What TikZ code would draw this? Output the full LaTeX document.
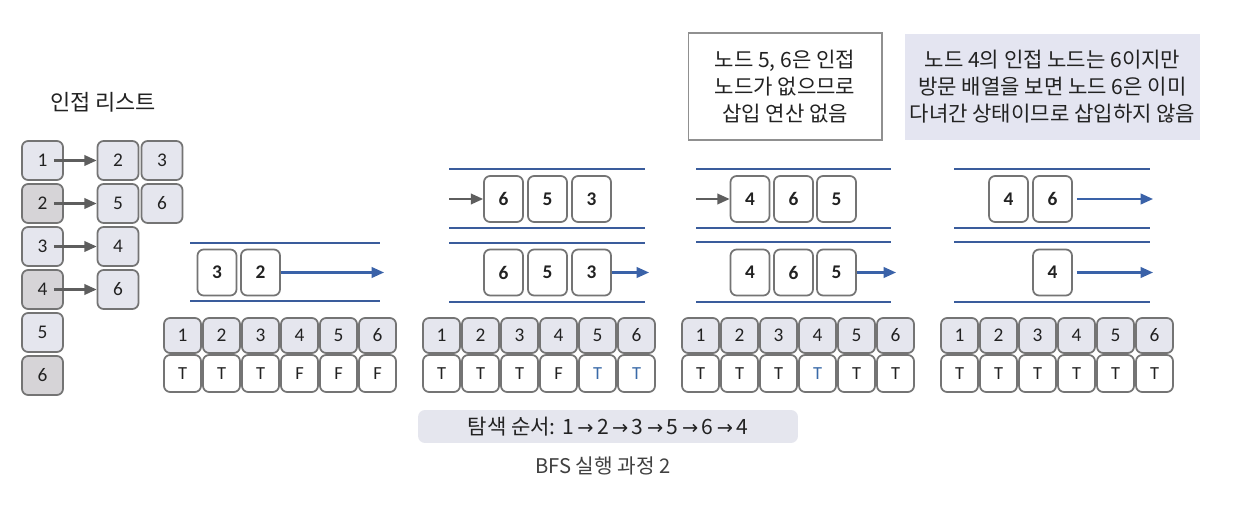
\documentclass[tikz,border=0pt]{standalone}
\usepackage{fontspec}
\setmainfont{Carlito}
\newfontfamily\kr{Noto Sans CJK KR}
\newfontfamily\dv{DejaVu Sans}
\usetikzlibrary{arrows.meta}
\definecolor{qblue}{HTML}{3A5C9C}
\definecolor{ablue}{HTML}{3A62A8}
\definecolor{tblue}{HTML}{3A6AA8}
\definecolor{lfill}{HTML}{E5E6EE}
\definecolor{dfill}{HTML}{D6D4D7}
\definecolor{bord}{HTML}{747474}
\definecolor{agray}{HTML}{5E5E5E}
\definecolor{notefill}{HTML}{E4E5F1}
\definecolor{txt}{HTML}{222222}
\tikzset{
  base/.style={draw=bord, line width=1pt, rounded corners=3.5pt, inner sep=0pt, text=txt, font=\fontsize{11}{13}\selectfont},
  adjl/.style={base, fill=lfill, minimum width=0.82cm, minimum height=0.78cm},
  adjd/.style={base, fill=dfill, minimum width=0.82cm, minimum height=0.78cm},
  vtop/.style={base, fill=lfill, minimum width=0.74cm, minimum height=0.70cm},
  vbot/.style={base, fill=white, minimum width=0.74cm, minimum height=0.74cm, font=\fontsize{10.5}{12}\selectfont},
  qbox/.style={base, fill=white, minimum width=0.78cm, minimum height=0.92cm, font=\fontsize{11}{13}\bfseries\selectfont},
  qline/.style={draw=qblue, line width=1.1pt},
  blarrow/.style={draw=ablue, line width=1.2pt, -{Triangle[length=7pt,width=6pt]}},
  grarrow/.style={draw=agray, line width=1.2pt, -{Triangle[length=7pt,width=6pt]}},
  notetxt/.style={font=\kr\fontsize{12}{15.4}\selectfont, text=txt, align=center},
}
\begin{document}
\begin{tikzpicture}[x=0.02cm, y=-0.02cm]
\useasboundingbox (0,0) rectangle (1237,506);
\fill[white] (0,0) rectangle (1237,506);

% adjacency list
\node[font=\kr\fontsize{12.5}{14}\selectfont, text=txt] (title) at (103,102) {인접 리스트};
\node[adjl] (a1) at (42.5,160.5) {1};
\node[adjd] (a2) at (42.5,203.5) {2};
\node[adjl] (a3) at (42.5,246.5) {3};
\node[adjd] (a4) at (42.5,289.5) {4};
\node[adjl] (a5) at (42.5,332.5) {5};
\node[adjd] (a6) at (42.5,375.5) {6};
\node[adjl] (b12) at (118,160.5) {2};
\node[adjl] (b13) at (162,160.5) {3};
\node[adjl] (b25) at (118,203.5) {5};
\node[adjl] (b26) at (162,203.5) {6};
\node[adjl] (b34) at (118,246.5) {4};
\node[adjl] (b46) at (118,289.5) {6};
\foreach \i/\j in {1/12,2/25,3/34,4/46}{
  \draw[grarrow] ([xshift=-0.2cm]a\i.east) -- (b\j.west);
}

% visited arrays
\foreach \p/\x in {1/163,2/422,3/681,4/940}{
  \foreach \k in {1,...,6}{
    \node[vtop] (v\p t\k) at ({\x+19.5+39*(\k-1)},335.5) {\k};
  }
}
\node[vbot] (v1b1) at ({163+19.5},373.5) {T};
\node[vbot] (v1b2) at ({163+19.5+39},373.5) {T};
\node[vbot] (v1b3) at ({163+19.5+78},373.5) {T};
\node[vbot] (v1b4) at ({163+19.5+117},373.5) {F};
\node[vbot] (v1b5) at ({163+19.5+156},373.5) {F};
\node[vbot] (v1b6) at ({163+19.5+195},373.5) {F};
\node[vbot] (v2b1) at ({422+19.5},373.5) {T};
\node[vbot] (v2b2) at ({422+19.5+39},373.5) {T};
\node[vbot] (v2b3) at ({422+19.5+78},373.5) {T};
\node[vbot] (v2b4) at ({422+19.5+117},373.5) {F};
\node[vbot, text=tblue] (v2b5) at ({422+19.5+156},373.5) {T};
\node[vbot, text=tblue] (v2b6) at ({422+19.5+195},373.5) {T};
\node[vbot] (v3b1) at ({681+19.5},373.5) {T};
\node[vbot] (v3b2) at ({681+19.5+39},373.5) {T};
\node[vbot] (v3b3) at ({681+19.5+78},373.5) {T};
\node[vbot, text=tblue] (v3b4) at ({681+19.5+117},373.5) {T};
\node[vbot] (v3b5) at ({681+19.5+156},373.5) {T};
\node[vbot] (v3b6) at ({681+19.5+195},373.5) {T};
\foreach \k in {1,...,6}{
  \node[vbot] (v4b\k) at ({940+19.5+39*(\k-1)},373.5) {T};
}

% panel 1 queue
\draw[qline] (190,243) -- (380,243);
\draw[qline] (190,301) -- (380,301);
\node[qbox] (q1a) at (217,272.5) {3};
\node[qbox] (q1b) at (260.5,272.5) {2};
\coordinate (q1end) at (384,272.5);
\draw[blarrow] (q1b.east) -- (q1end);

% panel 2 queues
\draw[qline] (449,169) -- (645,169);
\draw[qline] (449,228) -- (645,228);
\draw[qline] (449,243) -- (645,243);
\draw[qline] (449,302) -- (645,302);
\node[qbox] (q2a) at (503.5,199) {6};
\node[qbox] (q2b) at (547.5,199) {5};
\node[qbox] (q2c) at (591.5,199) {3};
\coordinate (q2in) at (449,199);
\draw[grarrow] (q2in) -- (q2a.west);
\node[qbox] (q2d) at (503.5,272.5) {6};
\node[qbox] (q2e) at (547.5,272.5) {5};
\node[qbox] (q2f) at (591.5,272.5) {3};
\coordinate (q2out) at (649,272.5);
\draw[blarrow] (q2f.east) -- (q2out);

% panel 3 note and queues
\node[draw=bord!80, line width=0.6pt, fill=white, minimum width=3.88cm, minimum height=2.14cm, inner sep=0pt] (n1) at (785,86.5) {};
\node[notetxt] (n1t) at (n1.center) {노드 5, 6은 인접\\노드가 없으므로\\삽입 연산 없음};
\draw[qline] (696,169) -- (891,169);
\draw[qline] (696,228) -- (891,228);
\draw[qline] (696,242) -- (891,242);
\draw[qline] (696,302) -- (891,302);
\node[qbox] (q3a) at (750,199) {4};
\node[qbox] (q3b) at (793.5,199) {6};
\node[qbox] (q3c) at (836.5,199) {5};
\coordinate (q3in) at (696,199);
\draw[grarrow] (q3in) -- (q3a.west);
\node[qbox] (q3d) at (750,272.5) {4};
\node[qbox] (q3e) at (793.5,272.5) {6};
\node[qbox] (q3f) at (836.5,272.5) {5};
\coordinate (q3out) at (896,272.5);
\draw[blarrow] (q3f.east) -- (q3out);

% panel 4 note and queues
\node[fill=notefill, minimum width=5.9cm, minimum height=2.12cm, inner sep=0pt] (n2) at (1052.5,87) {};
\node[notetxt] (n2t) at (n2.center) {노드 4의 인접 노드는 6이지만\\방문 배열을 보면 노드 6은 이미\\다녀간 상태이므로 삽입하지 않음};
\draw[qline] (954,169) -- (1150,169);
\draw[qline] (954,228) -- (1150,228);
\draw[qline] (954,242) -- (1150,242);
\draw[qline] (954,302) -- (1150,302);
\node[qbox] (q4a) at (1008.5,199) {4};
\node[qbox] (q4b) at (1052.5,199) {6};
\coordinate (q4out) at (1153,199);
\draw[blarrow] ([xshift=0.08cm]q4b.east) -- (q4out);
\node[qbox] (q4c) at (1052.5,272.5) {4};
\coordinate (q4out2) at (1153,272.5);
\draw[blarrow] ([xshift=0.08cm]q4c.east) -- (q4out2);

% bottom
\node[fill=lfill, rounded corners=4pt, minimum width=7.6cm, minimum height=0.66cm, inner sep=0pt] (ord) at (608,426.5) {};
\node[font=\kr\fontsize{12}{14}\selectfont, text=txt] (ordt) at (ord.center) {탐색 순서: 1\,{\dv\fontsize{11}{12}\selectfont→}\,2\,{\dv\fontsize{11}{12}\selectfont→}\,3\,{\dv\fontsize{11}{12}\selectfont→}\,5\,{\dv\fontsize{11}{12}\selectfont→}\,6\,{\dv\fontsize{11}{12}\selectfont→}\,4};
\node[font=\kr\fontsize{11.5}{13}\selectfont, text=black!75] (cap) at (603,466) {BFS 실행 과정 2};
\end{tikzpicture}
\end{document}
